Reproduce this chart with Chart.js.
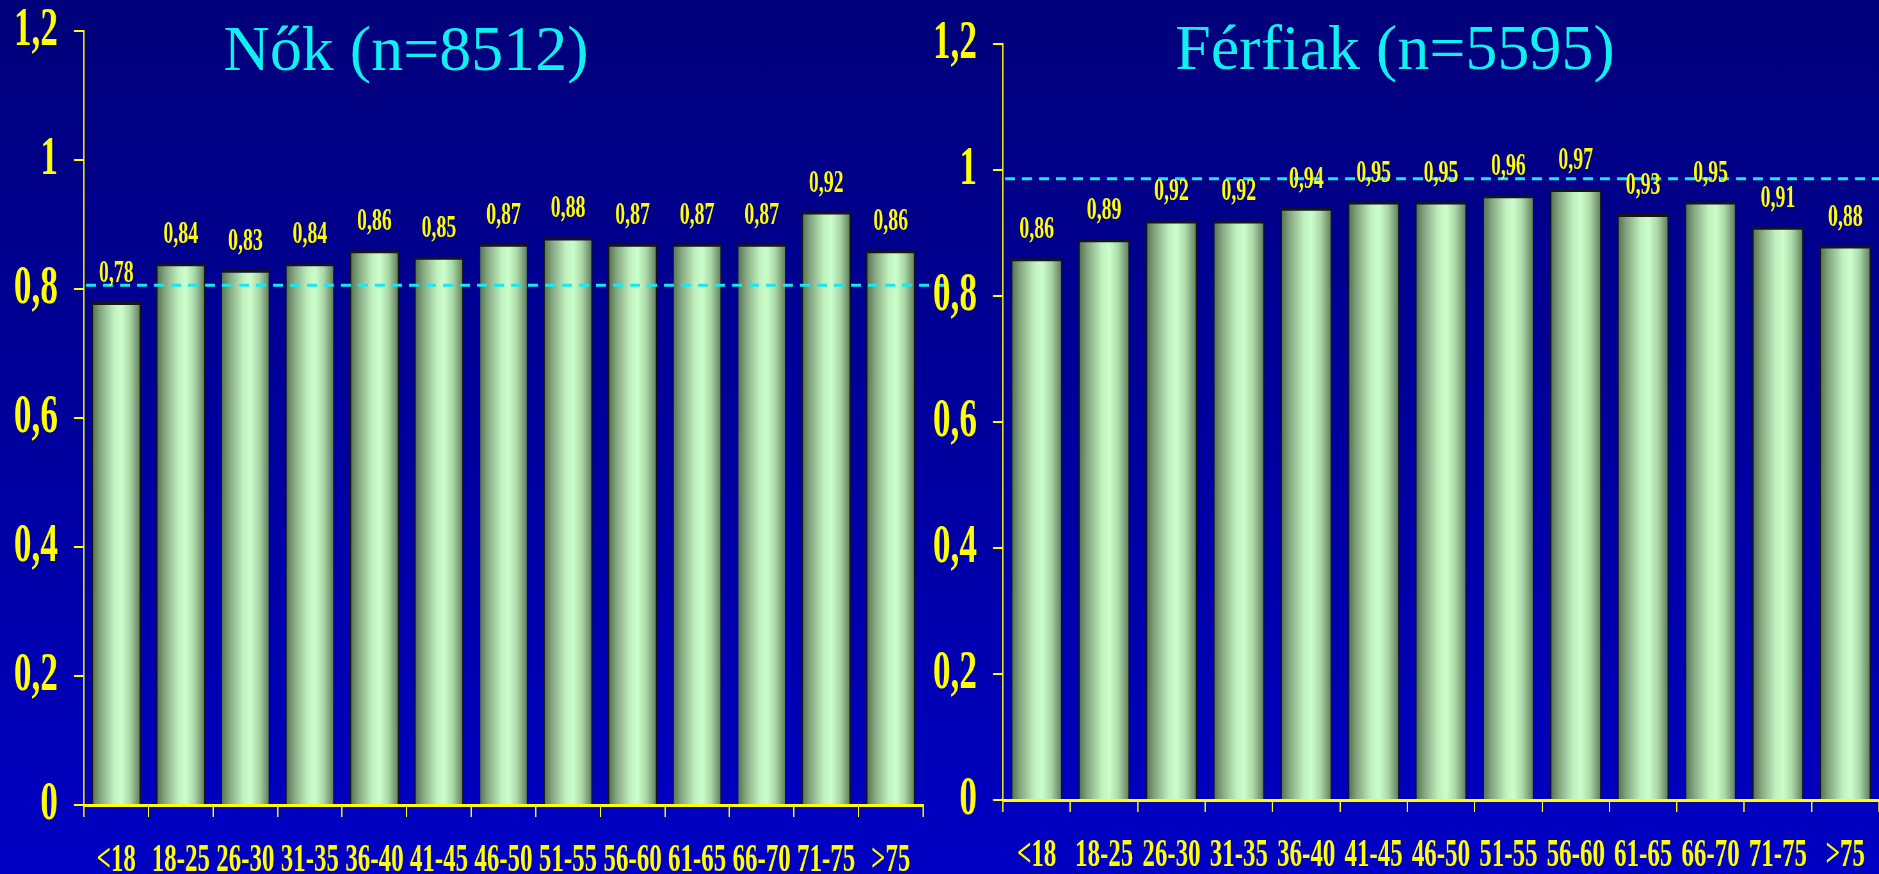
<!DOCTYPE html>
<html><head><meta charset="utf-8">
<script src="https://cdn.jsdelivr.net/npm/chart.js@4.4.1/dist/chart.umd.min.js"></script>
<style>
html,body{margin:0;padding:0;width:1879px;height:874px;overflow:hidden;
  background:linear-gradient(to bottom,#00007a 0%,#00009a 45%,#0000c4 100%);}
canvas{position:absolute;top:0;}
</style></head><body>
<canvas id="c1" width="1484" height="874" style="left:0px;width:950px;height:874px;"></canvas>
<canvas id="c2" width="1486" height="874" style="left:928px;width:951px;height:874px;"></canvas>
<script>
const ageGroups = ['<18','18-25','26-30','31-35','36-40','41-45','46-50','51-55','56-60','61-65','66-70','71-75','>75'];
const womenValues = [0.78,0.84,0.83,0.84,0.86,0.85,0.87,0.88,0.87,0.87,0.87,0.92,0.86];
const menValues   = [0.86,0.89,0.92,0.92,0.94,0.95,0.95,0.96,0.97,0.93,0.95,0.91,0.88];
const yTicks = [0,0.2,0.4,0.6,0.8,1,1.2];
const womenRef = [0.806];
const menRef = [0.986];
const womenTitle = 'Nők (n=8512)';
const menTitle = 'Férfiak (n=5595)';

const BAR_PCT = 0.76;
const fmt = v => String(Math.round(v*100)/100).replace('.', ',');

function barGradient(c) {
  const chart = c.chart;
  if (c.type !== 'data' || !chart.chartArea) return '#c8f5c8';
  const xs = chart.scales.x;
  const cx = xs.getPixelForValue(c.dataIndex);
  const w = (xs.width / chart.data.labels.length) * BAR_PCT;
  const g = chart.ctx.createLinearGradient(cx - w/2, 0, cx + w/2, 0);
  g.addColorStop(0, '#52704d');
  g.addColorStop(0.18, '#86a882');
  g.addColorStop(0.45, '#c0f0be');
  g.addColorStop(0.6, '#ccffcc');
  g.addColorStop(0.78, '#abd8a8');
  g.addColorStop(1, '#5a7856');
  return g;
}

const decor = {
  id: 'decor',
  afterDatasetsDraw(chart, args, o) {
    const {ctx, chartArea, scales} = chart;
    const s = o.s;
    const y = scales.y.getPixelForValue(o.ref[0]);
    ctx.save();
    ctx.strokeStyle = '#18e8f0';
    ctx.lineWidth = 3;
    ctx.setLineDash([10/s, 7/s]);
    ctx.beginPath();
    ctx.moveTo(chartArea.left + 2/s, y);
    ctx.lineTo(o.refEnd/s, y);
    ctx.stroke();
    ctx.restore();
    const meta = chart.getDatasetMeta(0);
    const data = chart.data.datasets[0].data;
    ctx.save();
    ctx.font = 'bold 31px "Liberation Serif"';
    ctx.fillStyle = '#ffff00';
    ctx.textAlign = 'center';
    ctx.textBaseline = 'alphabetic';
    meta.data.forEach((bar, i) => ctx.fillText(fmt(data[i]), bar.x, bar.y - 20));
    ctx.restore();
    ctx.save();
    ctx.translate(o.titleX/s, o.titleY);
    ctx.scale(1/s, 1);
    ctx.font = '64px "Liberation Serif"';
    ctx.fillStyle = '#10f0f0';
    ctx.textAlign = 'center';
    ctx.textBaseline = 'alphabetic';
    ctx.fillText(o.title, 0, 0);
    ctx.restore();
  }
};

function makeChart(id, values, ref, title, g) {
  const canvas = document.getElementById(id);
  const s = g.cssWidth / canvas.width;
  return new Chart(canvas, {
    type: 'bar',
    data: {
      labels: ageGroups,
      datasets: [{
        data: values,
        backgroundColor: barGradient,
        borderColor: '#151515',
        borderWidth: {top: 3, left: 2, right: 2, bottom: 0},
        barPercentage: BAR_PCT,
        categoryPercentage: 1
      }]
    },
    plugins: [decor],
    options: {
      responsive: false,
      animation: false,
      devicePixelRatio: 1,
      events: [],
      layout: {padding: {top: g.top, bottom: 0, left: 0, right: g.rightPad/s}},
      plugins: {
        legend: {display: false},
        tooltip: {enabled: false},
        title: {display: false},
        decor: {s, ref, title, titleX: g.titleX, titleY: g.titleY, refEnd: g.refEnd}
      },
      scales: {
        x: {
          grid: {display: true, drawOnChartArea: false, drawTicks: true, tickLength: 12, color: '#ffff00', lineWidth: 2, offset: true},
          border: {display: true, color: '#ffff00', width: 3},
          ticks: {color: '#ffff00', font: {family: 'Liberation Serif', weight: 'bold', size: 39}, padding: 21,
                  autoSkip: false, maxRotation: 0, minRotation: 0},
          afterFit(sc) { sc.height = g.xHeight; sc.paddingLeft = 0; sc.paddingRight = 0; }
        },
        y: {
          min: 0, max: 1.2,
          afterBuildTicks(sc) { sc.ticks = yTicks.map(v => ({value: v})); },
          grid: {drawOnChartArea: false, drawTicks: true, tickLength: 10/s, color: '#ffff00', lineWidth: 2},
          border: {display: true, color: '#ffff00', width: 2},
          ticks: {color: '#ffff00', font: {family: 'Liberation Serif', weight: 'bold', size: 55}, padding: 16/s,
                  callback: v => fmt(v)},
          afterFit(sc) { sc.width = g.left/s; sc.paddingTop = 0; sc.paddingBottom = 0; }
        }
      }
    }
  });
}

makeChart('c1', womenValues, womenRef, womenTitle,
  {cssWidth: 950, left: 84, top: 31, xHeight: 69, rightPad: 27, titleX: 406, titleY: 70, refEnd: 945});
makeChart('c2', menValues, menRef, menTitle,
  {cssWidth: 951, left: 75, top: 44, xHeight: 74, rightPad: 0, titleX: 467, titleY: 69, refEnd: 951});
</script>
</body></html>
